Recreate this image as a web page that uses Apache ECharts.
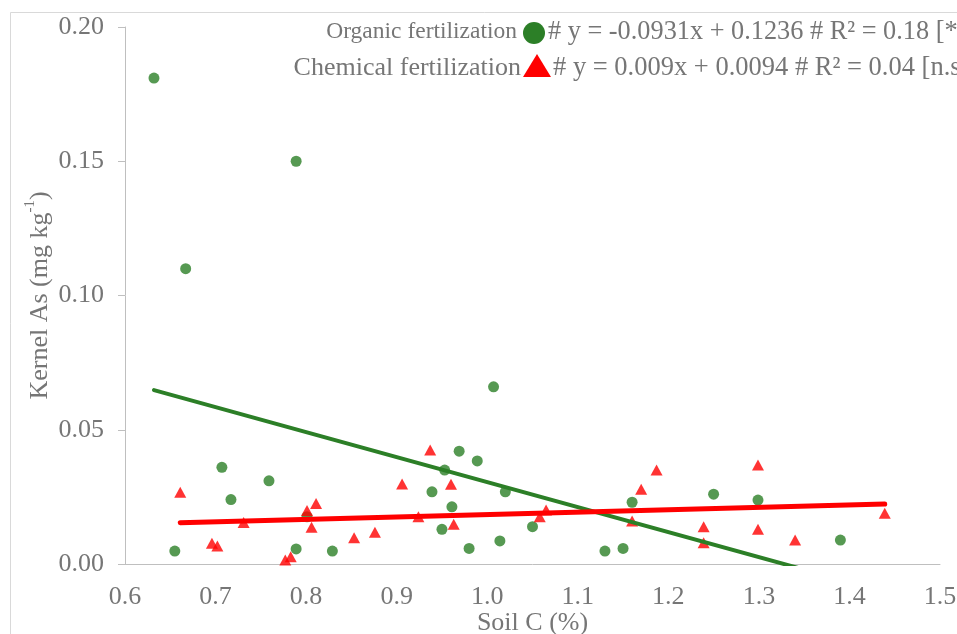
<!DOCTYPE html>
<html>
<head>
<meta charset="utf-8">
<script src="https://cdn.jsdelivr.net/npm/echarts@6/dist/echarts.min.js"></script>
<style>html,body{margin:0;padding:0;background:#fff;}#c{width:957px;height:634px;}</style>
</head>
<body>
<div id="c"></div>
<script>
// Organic fertilization points [Soil C %, Kernel As mg/kg]
const organicX = [0.632, 0.789, 0.667, 1.007, 0.655, 0.707, 0.717, 0.759, 0.789, 0.801, 0.829,
  0.969, 0.989, 0.953, 0.939, 1.020, 0.961, 0.950, 1.050, 0.980, 1.014, 1.130, 1.150, 1.160,
  1.250, 1.299, 1.390];
const organicY = [0.181, 0.150, 0.110, 0.066, 0.0048, 0.036, 0.024, 0.031, 0.0056, 0.0176, 0.0048,
  0.0420, 0.0384, 0.0350, 0.0269, 0.0269, 0.0213, 0.0129, 0.0139, 0.0058, 0.0086, 0.0048, 0.0058, 0.0230,
  0.0260, 0.0238, 0.0089];
// Chemical fertilization points
const chemicalX = [0.661, 0.696, 0.702, 0.731, 0.777, 0.783, 0.801, 0.811, 0.806, 0.853, 0.876,
  0.906, 0.924, 0.937, 0.960, 0.963, 1.058, 1.065, 1.170, 1.187, 1.160, 1.239, 1.239,
  1.299, 1.299, 1.340, 1.439];
const chemicalY = [0.0267, 0.0077, 0.0067, 0.0155, 0.0015, 0.0027, 0.0199, 0.0225, 0.0137, 0.0098, 0.0118,
  0.0298, 0.0176, 0.0425, 0.0297, 0.0148, 0.0176, 0.0201, 0.0278, 0.0350, 0.0160, 0.0139, 0.0079,
  0.0369, 0.0129, 0.0089, 0.0189];
// Trendline coefficients [slope, intercept] as given in the legend
const organicFit = [-0.0931, 0.1236];
const chemicalFit = [0.009, 0.0094];
// Axis ticks
const xTicks = [0.6, 0.7, 0.8, 0.9, 1.0, 1.1, 1.2, 1.3, 1.4, 1.5];
const yTicks = [0.00, 0.05, 0.10, 0.15, 0.20];
const legendTexts = [
  'Organic fertilization',
  '# y = -0.0931x + 0.1236 # R\u00b2 = 0.18 [*]',
  'Chemical fertilization',
  '# y = 0.009x + 0.0094 # R\u00b2 = 0.04 [n.s.]'
];

const FONT = "'Liberation Serif', 'DejaVu Serif', serif";
const GREY = '#767676';
const GREEN = '#2c7f27';
const RED = '#ff0000';

function zip(xs, ys) { return xs.map((x, i) => [x, ys[i]]); }
function fitLine(xs, fit) {
  const lo = Math.min(...xs), hi = Math.max(...xs);
  return [[lo, fit[0] * lo + fit[1]], [hi, fit[0] * hi + fit[1]]];
}

const chart = echarts.init(document.getElementById('c'), null, {renderer: 'canvas'});
chart.setOption({
  animation: false,
  backgroundColor: '#fff',
  textStyle: {fontFamily: FONT},
  grid: {left: 125, top: 27, right: 17, bottom: 70, containLabel: false, outerBoundsMode: 'none'},
  xAxis: {
    type: 'value', min: xTicks[0], max: xTicks[xTicks.length - 1], interval: 0.1,
    name: 'Soil C (%)', nameLocation: 'middle', nameGap: 46, nameMoveOverlap: false,
    nameTextStyle: {fontFamily: FONT, fontSize: 26, color: GREY},
    axisLine: {show: true, lineStyle: {color: '#bfbfbf', width: 1}},
    axisTick: {show: false},
    splitLine: {show: false},
    axisLabel: {fontFamily: FONT, fontSize: 26, color: GREY, margin: 20,
      formatter: v => v.toFixed(1)}
  },
  yAxis: {
    type: 'value', min: yTicks[0], max: yTicks[yTicks.length - 1], interval: 0.05,
    name: '{a|Kernel As (mg kg}{b|-1}{a|)}', nameLocation: 'middle', nameGap: 72, nameRotate: 90,
    nameMoveOverlap: false,
    nameTextStyle: {fontFamily: FONT, fontSize: 26, color: GREY,
      rich: {
        a: {fontFamily: FONT, fontSize: 26, color: GREY, lineHeight: 30, verticalAlign: 'bottom'},
        b: {fontFamily: FONT, fontSize: 15, color: GREY, lineHeight: 30, verticalAlign: 'top'}
      }},
    axisLine: {show: true, lineStyle: {color: '#bfbfbf', width: 1}},
    axisTick: {show: true, inside: false, length: 7, lineStyle: {color: '#bfbfbf'}},
    splitLine: {show: false},
    axisLabel: {fontFamily: FONT, fontSize: 26, color: GREY, margin: 21,
      formatter: v => v.toFixed(2)}
  },
  series: [
    {name: 'Organic fertilization', type: 'scatter', data: zip(organicX, organicY),
      symbol: 'circle', symbolSize: 11, itemStyle: {color: GREEN}},
    {name: 'Chemical fertilization', type: 'scatter', data: zip(chemicalX, chemicalY),
      symbol: 'triangle', symbolSize: [12, 11], itemStyle: {color: RED}},
    {name: 'Organic trend', type: 'line', data: fitLine(organicX, organicFit), clip: true,
      symbol: 'none', lineStyle: {color: GREEN, width: 4, cap: 'round'}, z: 3},
    {name: 'Chemical trend', type: 'line', data: fitLine(chemicalX, chemicalFit), clip: true,
      symbol: 'none', lineStyle: {color: RED, width: 5, cap: 'round'}, z: 3}
  ],
  graphic: [
    {type: 'rect', shape: {x: 10.5, y: 12.5, width: 1000, height: 700}, silent: true, z: -10,
      style: {fill: 'none', stroke: '#d9d9d9', lineWidth: 1}},
    {type: 'text', x: 517, y: 32, style: {text: legendTexts[0], font: "23.5px " + FONT,
      fill: GREY, textAlign: 'right', textVerticalAlign: 'middle'}},
    {type: 'circle', shape: {cx: 534, cy: 33, r: 11}, style: {fill: GREEN}},
    {type: 'text', x: 548, y: 32, style: {text: legendTexts[1], font: "26.3px " + FONT,
      fill: GREY, textAlign: 'left', textVerticalAlign: 'middle'}},
    {type: 'text', x: 521, y: 68, style: {text: legendTexts[2], font: "26px " + FONT,
      fill: GREY, textAlign: 'right', textVerticalAlign: 'middle'}},
    {type: 'polygon', shape: {points: [[537, 54], [551, 77], [523, 77]]}, style: {fill: RED}},
    {type: 'text', x: 553, y: 68, style: {text: legendTexts[3], font: "26.5px " + FONT,
      fill: GREY, textAlign: 'left', textVerticalAlign: 'middle'}}
  ]
});
</script>
</body>
</html>
